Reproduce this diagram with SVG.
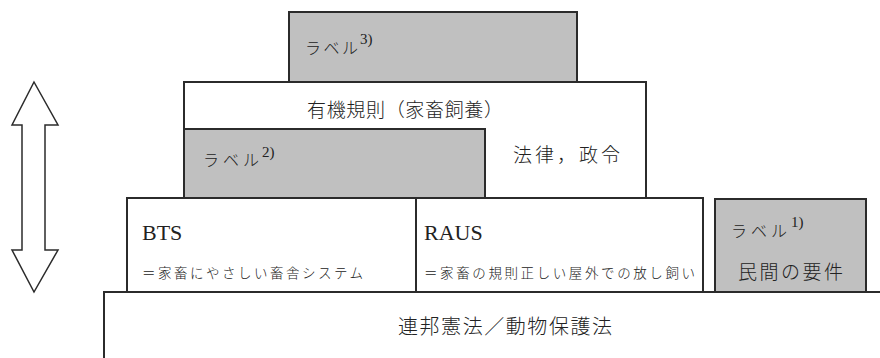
<svg xmlns="http://www.w3.org/2000/svg" width="880" height="358" viewBox="0 0 880 358">
<style>
.box{stroke:#2b2b2b;stroke-width:2}
.w{fill:#ffffff}
.g{fill:#c0c0c0}
.jp{font-family:"Noto Sans CJK JP","Noto Sans",sans-serif;fill:#222;font-weight:300}
.lat{font-family:"Liberation Serif","DejaVu Serif",serif;fill:#222;font-size:22px}
.sup{font-family:"Liberation Serif","DejaVu Serif",serif;fill:#222;font-size:15px}
</style>
<rect width="880" height="358" fill="#ffffff"/>
<g id="bund">
<rect class="box w" x="104" y="292" width="790" height="80"/>
<text class="jp" x="398" y="334" font-size="20" textLength="214" lengthAdjust="spacing">連邦憲法／動物保護法</text>
</g>
<g id="label3">
<rect class="box g" x="289" y="12" width="288" height="70"/>
<text class="jp" x="305" y="54" font-size="16" textLength="53" lengthAdjust="spacing">ラベル</text>
<text class="sup" x="360" y="44">3)</text>
</g>
<g id="organic">
<rect class="box w" x="184" y="82" width="462" height="116"/>
<text class="jp" x="307" y="117" font-size="19" textLength="196" lengthAdjust="spacing">有機規則（家畜飼養）</text>
<text class="jp" x="513" y="162" font-size="19" textLength="107" lengthAdjust="spacing">法律，政令</text>
</g>
<g id="label2">
<rect class="box g" x="184" y="129" width="301" height="69"/>
<text class="jp" x="203" y="166" font-size="16" textLength="56" lengthAdjust="spacing">ラベル</text>
<text class="sup" x="262" y="157">2)</text>
</g>
<g id="bts">
<rect class="box w" x="127" y="198" width="289" height="94"/>
<text class="lat" x="142" y="240">BTS</text>
<text class="jp" x="142" y="278" font-size="13.5" textLength="221" lengthAdjust="spacing">＝家畜にやさしい畜舎システム</text>
</g>
<g id="raus">
<rect class="box w" x="416" y="198" width="287" height="94"/>
<text class="lat" x="424" y="240">RAUS</text>
<text class="jp" x="424" y="278" font-size="13.5" textLength="271" lengthAdjust="spacing">＝家畜の規則正しい屋外での放し飼い</text>
</g>
<g id="label1">
<rect class="box g" x="715" y="199" width="151" height="93"/>
<text class="jp" x="731" y="237" font-size="16" textLength="56" lengthAdjust="spacing">ラベル</text>
<text class="sup" x="791" y="227">1)</text>
<text class="jp" x="738" y="279" font-size="19" textLength="105" lengthAdjust="spacing">民間の要件</text>
</g>
<g id="connectors">
<polygon points="34,82 58,125 45,125 45,250 58,250 34,292 12,250 22,250 22,125 12,125" fill="#ffffff" stroke="#2b2b2b" stroke-width="1.5" stroke-linejoin="miter"/>
</g>
</svg>
